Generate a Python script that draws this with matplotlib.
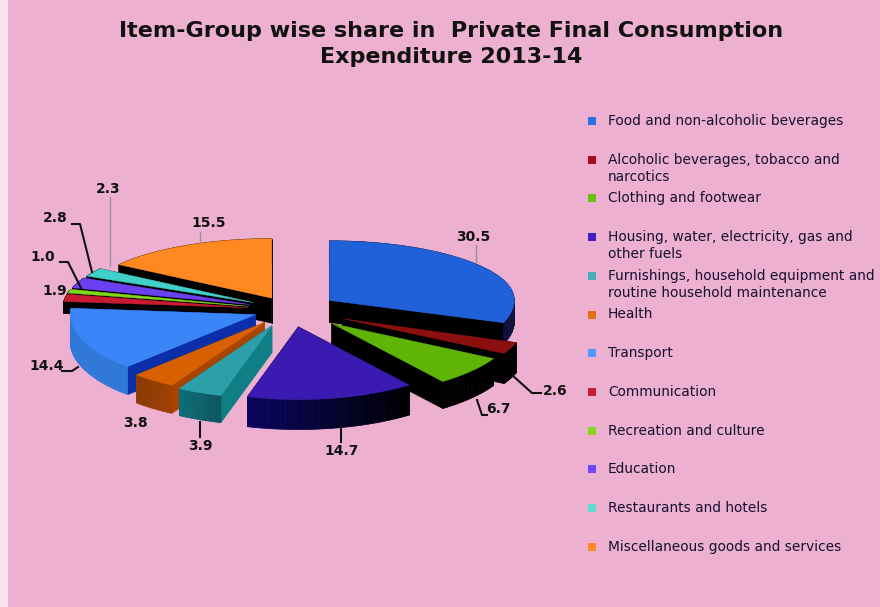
import numpy as np
import matplotlib
matplotlib.use("Agg")
import matplotlib.pyplot as plt
from matplotlib.colors import to_rgb

# item groups, clockwise from 12 o'clock
categories = [
    "Food and non-alcoholic beverages",
    "Alcoholic beverages, tobacco and\nnarcotics",
    "Clothing and footwear",
    "Housing, water, electricity, gas and\nother fuels",
    "Furnishings, household equipment and\nroutine household maintenance",
    "Health",
    "Transport",
    "Communication",
    "Recreation and culture",
    "Education",
    "Restaurants and hotels",
    "Miscellaneous goods and services",
]
shares = [30.5, 2.6, 6.7, 14.7, 3.9, 3.8, 14.4, 1.9, 1.0, 2.8, 2.3, 15.5]

title = "Item-Group wise share in  Private Final Consumption\nExpenditure 2013-14"

# styling
BG = "#EDB0D0"
top_colors = ["#2060D8", "#8B0F0F", "#5FB406", "#3A1AB0", "#2CA0A8", "#D86000",
              "#3A86F8", "#C81A32", "#80D818", "#6A40F0", "#40D0C8", "#FF8820"]
legend_colors = ["#2A70E0", "#A01020", "#6CC010", "#4020C0", "#40B0B8", "#E07010",
                 "#4A98FF", "#C81A3A", "#80D820", "#6A48F8", "#60D8D0", "#FF8828"]
# cut face colour, rim colour on the left and on the right
cut_colors = ["#000000", "#000000", "#000000", "#000000", "#0F7F85", "#A84400",
              "#0A2FA8", "#000000", "#000000", "#000000", "#000000", "#000000"]
rim_left = ["#000000", "#000000", "#000000", "#0A0560", "#0F6E78", "#8B3A08",
            "#2F78D8", "#000000", "#000000", "#000000", "#000000", "#000000"]
rim_right = ["#101040", "#000000", "#000000", "#000000", "#0A5560", "#A04000",
             "#2F78D8", "#000000", "#000000", "#000000", "#000000", "#000000"]
explode = [0.26, 0.31, 0.30, 0.25, 0.25, 0.23, 0.20, 0.23, 0.23, 0.23, 0.23, 0.21]
depths = [22, 30, 27, 30, 27, 28, 28, 12, 12, 12, 12, 25]
draw_order = [0, 11, 10, 9, 8, 7, 1, 6, 2, 5, 4, 3]

W, H = 880, 607
CX, CY, RX, RY = 290, 310, 185, 66


def warp(y):
    # back of the pie is squeezed, front is stretched
    return y * (1 - 0.09 * np.tanh(2 * y))


fig = plt.figure(figsize=(W / 100, H / 100), dpi=100, facecolor=BG)
ax = fig.add_axes([0, 0, 1, 1])
wedges, _ = ax.pie(shares, explode=explode, colors=top_colors, startangle=90, counterclock=False)
ax.set_aspect("auto")
ax.set_xlim(-CX / RX, (W - CX) / RX)
ax.set_ylim(-(H - CY) / RY, CY / RY)
ax.axis("off")

# extrude each slice downwards, back to front
for k, i in enumerate(draw_order):
    w = wedges[i]
    w.set_visible(False)
    x0, y0 = w.center
    y0 = warp(y0)
    d = depths[i] / RY
    z = 10 + k * 3
    t = np.radians(np.linspace(w.theta1, w.theta2, 41))
    px = w.center[0] + w.r * np.cos(t)
    py = warp(w.center[1] + w.r * np.sin(t))
    for end in (0, -1):
        ax.fill([x0, px[end], px[end], x0], [y0, py[end], py[end] - d, y0 - d],
                color=cut_colors[i], lw=0.5, zorder=z)
    c_l, c_r = np.array(to_rgb(rim_left[i])), np.array(to_rgb(rim_right[i]))
    for j in range(len(t) - 1):
        f = np.clip((px[j] - px.min()) / max(np.ptp(px), 1e-6), 0, 1)
        ax.fill([px[j], px[j + 1], px[j + 1], px[j]],
                [py[j], py[j + 1], py[j + 1] - d, py[j] - d],
                color=c_l + (c_r - c_l) * f, lw=0.5, zorder=z + 1)
    ax.fill(np.r_[x0, px], np.r_[y0, py], color=top_colors[i], lw=0.3, zorder=z + 2)

# overlay in pixel coordinates for labels and legend
ov = fig.add_axes([0, 0, 1, 1], facecolor="none")
ov.set_xlim(0, W)
ov.set_ylim(H, 0)
ov.axis("off")

ov.axvspan(0, 8, color="#F8E4EF", lw=0)
ov.text(451, 44, title, ha="center", va="center", fontsize=16, fontweight="bold",
        family="DejaVu Sans", color="#111111", linespacing=1.4)

# data labels, same order as shares
label_pos = [(473, 237), (555, 391), (498, 409), (342, 451), (200, 446), (135, 423),
             (47, 366), (55, 291), (43, 257), (55, 218), (108, 189), (209, 223)]
leaders = [
    [(476, 245), (476, 262)],
    [(512, 375), (532, 393), (541, 393)],
    [(477, 400), (482, 415), (487, 415)],
    [(341, 428), (341, 442)],
    [(200, 422), (200, 437)],
    None,
    [(62, 371), (72, 371), (78, 367)],
    None,
    [(60, 262), (68, 262), (81, 288)],
    [(72, 224), (80, 224), (92, 272)],
    [(110, 197), (110, 266)],
    [(200, 232), (200, 242)],
]
grey_leaders = {0, 10, 11}
for i, v in enumerate(shares):
    ov.text(*label_pos[i], f"{v:.1f}", ha="center", va="center", fontsize=10,
            fontweight="bold", family="DejaVu Sans", color="#111111", zorder=60)
    if leaders[i]:
        xs, ys = zip(*leaders[i])
        ov.plot(xs, ys, color="#999090" if i in grey_leaders else "#111111",
                lw=1.0 if i in grey_leaders else 1.5, zorder=5 if i in grey_leaders else 60)

# legend
for i, name in enumerate(categories):
    y = 121 + i * 38.7
    ov.plot([592], [y], marker="s", ms=6.2, mew=0, color=legend_colors[i])
    ov.text(608, y - 7, name, ha="left", va="top", fontsize=9.9, family="DejaVu Sans",
            color="#151030", linespacing=1.3)

fig.savefig("out.png", dpi=100, facecolor=BG)
